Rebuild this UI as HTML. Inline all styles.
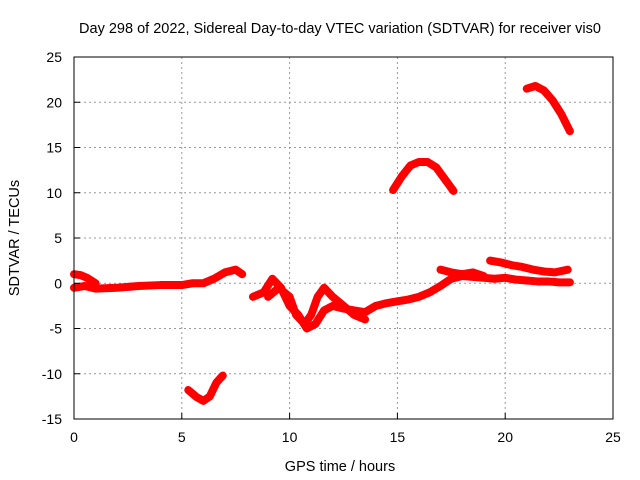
<!DOCTYPE html>
<html><head><meta charset="utf-8"><style>
body{margin:0;background:#fff}
svg{display:block;font-family:"Liberation Sans",sans-serif}
</style></head><body>
<svg id="chart" width="640" height="480">
<text x="340" y="33" text-anchor="middle" font-size="14.5">Day 298 of 2022, Sidereal Day-to-day VTEC variation (SDTVAR) for receiver vis0</text>
<g id="grid"></g>
<g id="series"></g>
<rect x="74" y="57" width="539" height="362" fill="none" stroke="#000" stroke-width="1"/>
<g id="ticks"></g>
<text x="340" y="471" text-anchor="middle" font-size="14.5">GPS time / hours</text>
<text transform="translate(19,238) rotate(-90)" text-anchor="middle" font-size="14.5">SDTVAR / TECUs</text>
</svg>
<script>
const xTicks=[0,5,10,15,20,25];
const yTicks=[-15,-10,-5,0,5,10,15,20,25];
const s1t=[0,0.5,1,2,3,4,5,5.5,6,6.5,7,7.5,7.8];
const s1v=[-0.5,-0.3,-0.6,-0.5,-0.3,-0.2,-0.2,0,0,0.5,1.2,1.5,1.0];
const s1bt=[0,0.3,0.6,1.0];
const s1bv=[1.0,0.9,0.6,0];
const s2t=[8.3,8.8,9.2,9.6,10,10.4,10.8,11.2,11.6,12,12.5,13,13.5,14,14.5,15,15.5,16,16.5,17,17.5,18,18.5,19,19.5,20,20.5,21,21.5,22,22.5,23];
const s2v=[-1.5,-1.0,0.5,-0.5,-2.5,-3.5,-5.0,-4.5,-3,-2.5,-2.8,-3,-3.2,-2.5,-2.2,-2,-1.8,-1.5,-1,-0.3,0.5,0.8,0.7,0.6,0.5,0.6,0.4,0.3,0.2,0.2,0.1,0.1];
const s3t=[9,9.5,10,10.3,10.7,11,11.3,11.6,12,12.5,13,13.5];
const s3v=[-1.5,-0.5,-1.5,-3.5,-4.5,-3.5,-1.5,-0.5,-1.5,-2.5,-3.5,-4];
const s4t=[17,17.5,18,18.5,19];
const s4v=[1.5,1.2,1.0,1.2,0.8];
const s5t=[19.3,19.8,20.3,20.8,21.3,21.8,22.3,22.9];
const s5v=[2.5,2.3,2.0,1.8,1.5,1.3,1.2,1.5];
const s6t=[5.3,5.7,6,6.3,6.6,6.9];
const s6v=[-11.8,-12.6,-13,-12.5,-11,-10.2];
const s7t=[14.8,15.2,15.6,16,16.4,16.8,17.2,17.6];
const s7v=[10.3,11.8,13,13.4,13.4,12.8,11.5,10.2];
const s8t=[21,21.4,21.8,22.2,22.6,23];
const s8v=[21.5,21.8,21.3,20.2,18.7,16.8];
const NS="http://www.w3.org/2000/svg";
function X(t){return 74+t*539/25;}
function Y(v){return 419-(v+15)*362/40;}
const grid=document.getElementById('grid'),ticks=document.getElementById('ticks'),ser=document.getElementById('series');
function mk(tag,a,p){const e=document.createElementNS(NS,tag);for(const k in a)e.setAttribute(k,a[k]);p.appendChild(e);return e;}
xTicks.forEach(t=>{
  if(t>0&&t<25){const g=mk('line',{x1:X(t),x2:X(t),y1:57,y2:419,stroke:'#999','stroke-dasharray':'2,3'},grid);
  
  }
  const tk=mk('line',{x1:X(t),x2:X(t),y1:419,y2:413,stroke:'#000'},ticks);
  
  
  const l=mk('text',{x:X(t),y:442,'text-anchor':'middle','font-size':'14'},ticks);l.textContent=t;
  
  
});
yTicks.forEach(v=>{
  if(v>-15&&v<25){const g=mk('line',{x1:74,x2:613,y1:Y(v),y2:Y(v),stroke:'#999','stroke-dasharray':'2,3'},grid);
  
  }
  const tk=mk('line',{x1:74,x2:80,y1:Y(v),y2:Y(v),stroke:'#000'},ticks);
  
  
  const l=mk('text',{x:62,y:Y(v)+5,'text-anchor':'end','font-size':'14'},ticks);l.textContent=v;
  
  
});
[[s1t,s1v],[s1bt,s1bv],[s2t,s2v],[s3t,s3v],[s4t,s4v],[s5t,s5v],[s6t,s6v],[s7t,s7v],[s8t,s8v]].forEach(([ts,vs])=>{
  const pts=ts.map((t,i)=>X(t)+','+Y(vs[i])).join(' ');
  const p=mk('polyline',{points:pts,fill:'none',stroke:'#f00','stroke-width':'8','stroke-linejoin':'round','stroke-linecap':'round'},ser);
  
  
});
</script>
</body></html>
